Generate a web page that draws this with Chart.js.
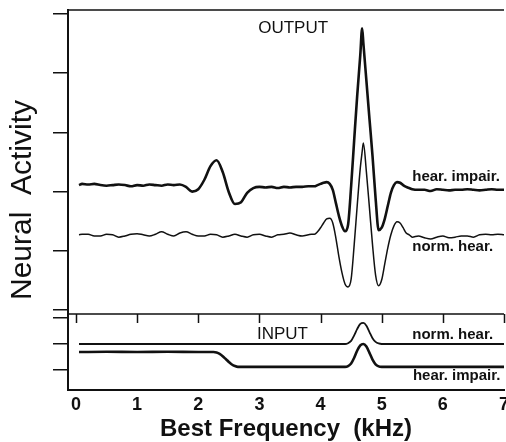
<!DOCTYPE html>
<html>
<head>
<meta charset="utf-8">
<script src="https://cdn.jsdelivr.net/npm/chart.js@4.4.1/dist/chart.umd.min.js"></script>
<style>
  html, body { margin: 0; padding: 0; background: #fff; }
  canvas { display: block; }
</style>
</head>
<body>
<canvas id="chart" width="506" height="442"></canvas>
<script>
// best frequency (kHz) sampled along the output profiles
const fOut = [0.05,0.1,0.2,0.3,0.4,0.5,0.6,0.7,0.8,0.9,1.0,1.1,1.2,1.3,1.4,1.5,1.6,1.7,1.8,1.9,
  2.0,2.1,2.2,2.3,2.4,2.5,2.6,2.7,2.8,2.9,3.0,3.1,3.2,3.3,3.4,3.5,3.6,3.7,3.8,3.85,
  3.9,3.95,4.0,4.05,4.1,4.15,4.2,4.25,4.3,4.35,4.4,4.45,4.5,4.55,4.6,4.65,4.68,4.7,4.75,4.8,
  4.85,4.9,4.95,5.0,5.05,5.1,5.15,5.2,5.25,5.3,5.35,5.4,5.45,5.5,5.6,5.7,5.8,5.9,6.0,6.1,
  6.2,6.3,6.4,6.5,6.6,6.7,6.8,6.9,7.0];

// neural activity at the output, hearing impaired
const hiOut = [2.11,2.13,2.12,2.13,2.11,2.10,2.11,2.12,2.11,2.09,2.11,2.10,2.12,2.11,2.10,2.12,2.11,2.12,2.08,2.00,
  2.04,2.20,2.43,2.53,2.33,1.99,1.79,1.82,1.98,2.06,2.08,2.07,2.08,2.06,2.08,2.07,2.08,2.08,2.09,2.09,
  2.09,2.11,2.13,2.15,2.16,2.13,2.03,1.81,1.59,1.42,1.33,1.44,2.09,2.87,3.63,4.31,4.76,4.51,3.87,3.23,
  2.60,1.89,1.35,1.39,1.54,1.76,1.98,2.11,2.16,2.15,2.11,2.08,2.06,2.04,2.03,2.03,2.01,2.04,2.03,2.02,
  2.03,2.03,2.04,2.03,2.02,2.03,2.04,2.03,2.03];

// neural activity at the output, normal hearing
const nhOut = [1.27,1.28,1.28,1.25,1.25,1.28,1.27,1.23,1.25,1.28,1.29,1.27,1.25,1.28,1.32,1.28,1.25,1.30,1.32,1.28,
  1.25,1.25,1.28,1.27,1.23,1.25,1.28,1.25,1.23,1.27,1.28,1.25,1.23,1.27,1.28,1.30,1.27,1.25,1.27,1.28,
  1.28,1.32,1.39,1.47,1.54,1.55,1.47,1.22,0.90,0.63,0.44,0.39,0.52,1.10,1.77,2.40,2.67,2.82,2.33,1.72,
  1.10,0.59,0.41,0.51,0.78,1.05,1.27,1.42,1.49,1.47,1.39,1.30,1.27,1.23,1.25,1.22,1.20,1.23,1.25,1.22,
  1.23,1.25,1.25,1.23,1.27,1.28,1.27,1.28,1.27];

// best frequency (kHz) sampled along the input spectra
const fIn = [0.05,0.5,1.0,1.5,2.0,2.2,2.25,2.3,2.35,2.4,2.45,2.5,2.55,2.6,2.65,2.7,3.0,3.5,4.0,4.3,
  4.4,4.45,4.5,4.55,4.6,4.65,4.7,4.75,4.8,4.85,4.9,4.95,5.0,5.1,5.5,6.0,6.5,7.0];

// input spectrum, normal hearing
const nhIn = [1.0,1.0,1.0,1.0,1.0,1.0,1.0,1.0,1.0,1.0,1.0,1.0,1.0,1.0,1.0,1.0,1.0,1.0,1.0,1.0,
  1.0,1.03,1.12,1.33,1.58,1.77,1.81,1.70,1.46,1.22,1.08,1.02,1.0,1.0,1.0,1.0,1.0,1.0];

// input spectrum, hearing impaired (high-frequency loss above ~2.3 kHz)
const hiIn = [0.69,0.70,0.69,0.70,0.69,0.69,0.69,0.67,0.62,0.53,0.42,0.31,0.21,0.15,0.12,0.12,0.12,0.12,0.12,0.12,
  0.12,0.15,0.25,0.47,0.75,0.95,1.0,0.90,0.66,0.40,0.22,0.14,0.12,0.12,0.12,0.12,0.12,0.12];

const xTicks = [0,1,2,3,4,5,6,7];
const outTicks = [0,1,2,3,4,5];
const inTicks = [0,1,2];

const FONT = "'Liberation Sans', Arial, Helvetica, sans-serif";
const INK = '#111';

function pts(xs, ys){ return xs.map((x,i)=>({x:x, y:ys[i]})); }

// text placed in data coordinates of the panel it belongs to
const notes = [
  {text:'OUTPUT',        axis:'yOut', x:2.98, y:4.68,  font:'17px ' + FONT},
  {text:'hear. impair.', axis:'yOut', x:5.50, y:2.18,  font:'bold 15px ' + FONT},
  {text:'norm. hear.',   axis:'yOut', x:5.50, y:1.00,  font:'bold 15px ' + FONT},
  {text:'INPUT',         axis:'yIn',  x:2.96, y:1.19,  font:'17px ' + FONT},
  {text:'norm. hear.',   axis:'yIn',  x:5.50, y:1.19,  font:'bold 15px ' + FONT},
  {text:'hear. impair.', axis:'yIn',  x:5.51, y:-0.385, font:'bold 15px ' + FONT}
];

// panel edges, kHz tick marks under the divider, labels and the shared y title
const panelFrame = {
  id: 'panelFrame',
  afterDraw(chart){
    const {ctx, chartArea:a, scales} = chart;
    const x = scales.x, yIn = scales.yIn;
    ctx.save();
    ctx.strokeStyle = INK;
    ctx.lineWidth = 1.5;
    ctx.beginPath();
    ctx.moveTo(a.left, a.top); ctx.lineTo(a.right, a.top);
    ctx.moveTo(a.left, yIn.top); ctx.lineTo(a.right, yIn.top);
    xTicks.forEach(v=>{ const px = Math.round(x.getPixelForValue(v)) + 0.5; ctx.moveTo(px, yIn.top); ctx.lineTo(px, yIn.top + 9); });
    ctx.stroke();

    ctx.fillStyle = INK;
    ctx.textBaseline = 'alphabetic';
    ctx.textAlign = 'left';
    notes.forEach(n=>{
      ctx.font = n.font;
      ctx.fillText(n.text, x.getPixelForValue(n.x), scales[n.axis].getPixelForValue(n.y));
    });

    ctx.translate(23, (a.top + a.bottom) / 2);
    ctx.rotate(-Math.PI / 2);
    ctx.textAlign = 'center';
    ctx.textBaseline = 'middle';
    ctx.font = '30px ' + FONT;
    ctx.fillText('Neural  Activity', 0, 0);
    ctx.restore();
  }
};

const lineStyle = { borderColor: INK, pointRadius: 0, cubicInterpolationMode: 'monotone', fill: false };

new Chart(document.getElementById('chart'), {
  type: 'line',
  data: {
    datasets: [
      { ...lineStyle, label:'hear. impair. (output)', data: pts(fOut, hiOut), yAxisID:'yOut', borderWidth:2.6 },
      { ...lineStyle, label:'norm. hear. (output)',   data: pts(fOut, nhOut), yAxisID:'yOut', borderWidth:1.5 },
      { ...lineStyle, label:'norm. hear. (input)',    data: pts(fIn, nhIn),   yAxisID:'yIn',  borderWidth:1.8 },
      { ...lineStyle, label:'hear. impair. (input)',  data: pts(fIn, hiIn),   yAxisID:'yIn',  borderWidth:2.6 }
    ]
  },
  options: {
    responsive: false,
    devicePixelRatio: 1,
    animation: false,
    layout: { padding: { left: 53, right: 2, top: 10, bottom: 0 } },
    plugins: { legend: { display: false }, tooltip: { enabled: false } },
    scales: {
      x: {
        type: 'linear', position: 'bottom', min: -0.13, max: 7,
        afterBuildTicks: s => { s.ticks = xTicks.map(v=>({value:v})); },
        afterFit: s => { s.paddingRight = 0; s.paddingLeft = 0; },
        grid: { display: false, drawTicks: false },
        border: { color: INK, width: 2 },
        ticks: { color: INK, padding: 4, maxRotation: 0, autoSkip: false,
                 font: { family: FONT, size: 18, weight: 'bold' } },
        title: { display: true, text: 'Best Frequency  (kHz)', color: INK, padding: { top: 0, bottom: 2 },
                 font: { family: FONT, size: 24, weight: 'bold', lineHeight: 0.85 } }
      },
      yOut: {
        type: 'linear', position: 'left', stack: 'panels', stackWeight: 4, weight: 1,
        min: -0.0676, max: 5.0676,
        afterBuildTicks: s => { s.ticks = outTicks.map(v=>({value:v})); },
        ticks: { display: false },
        grid: { drawOnChartArea: false, tickLength: 15, color: INK, lineWidth: 1.5 },
        border: { color: INK, width: 2 }
      },
      yIn: {
        type: 'linear', position: 'left', stack: 'panels', stackWeight: 1, weight: 0,
        min: -0.77, max: 2.154,
        afterBuildTicks: s => { s.ticks = inTicks.map(v=>({value:v})); },
        ticks: { display: false },
        grid: { drawOnChartArea: false, tickLength: 15, color: INK, lineWidth: 1.5 },
        border: { color: INK, width: 2 }
      }
    }
  },
  plugins: [panelFrame]
});
</script>
</body>
</html>
